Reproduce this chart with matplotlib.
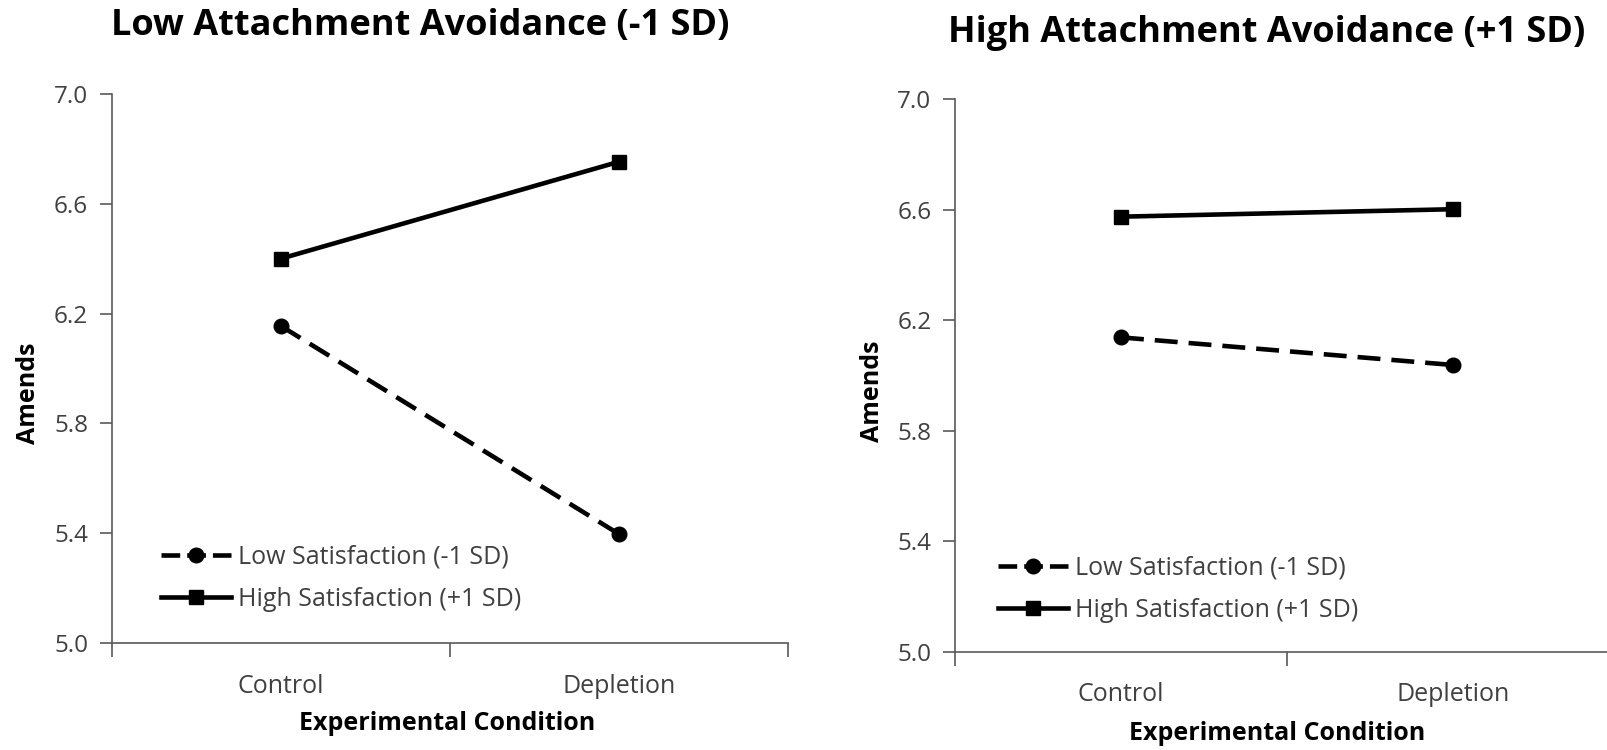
import numpy as np
import matplotlib
matplotlib.use("Agg")
import matplotlib.pyplot as plt
from matplotlib.lines import Line2D

plt.rcParams['font.family'] = ['Open Sans', 'DejaVu Sans']

# data
conditions = ["Control", "Depletion"]
series_labels = ["Low Satisfaction (-1 SD)", "High Satisfaction (+1 SD)"]
low_avoid_low_sat = [6.155, 5.397]
low_avoid_high_sat = [6.40, 6.753]
high_avoid_low_sat = [6.138, 6.038]
high_avoid_high_sat = [6.575, 6.602]
y_ticks = [5.0, 5.4, 5.8, 6.2, 6.6, 7.0]

titles = ["Low Attachment Avoidance (-1 SD)", "High Attachment Avoidance (+1 SD)"]

fig = plt.figure(figsize=(16.08, 7.5), dpi=100)
ax_l = fig.add_axes([0.0695, 0.1427, 0.4205, 0.732])
ax_r = fig.add_axes([0.5939, 0.1311, 0.4129, 0.7365])

spine_col = "#595959"
tick_col = "#404040"
x = np.arange(len(conditions)) + 0.5

# legend keys: dash - marker - dash, like the Excel legend
handles = [
    Line2D([], [], color="black", lw=3.3, ls=(0, (4.08, 1.53)), marker="o", ms=10.5),
    Line2D([], [], color="black", lw=3.3, ls="-", marker="s", ms=10.5),
]


def style(ax, low, high):
    ax.plot(x, low, color="black", lw=3.3, ls=(0, (5, 2.4)),
            marker="o", ms=10.5)
    ax.plot(x, high, color="black", lw=3.3, ls="-",
            marker="s", ms=10.5)
    ax.set_xlim(0, 2)
    ax.set_ylim(5.0, 7.0)
    ax.set_yticks(y_ticks)
    ax.set_yticklabels([f"{v:.1f}" for v in y_ticks])
    ax.set_xticks([0, 1, 2])
    ax.set_xticklabels([])
    ax.set_xticks(x, minor=True)
    ax.set_xticklabels(conditions, minor=True)
    ax.tick_params(axis="x", which="major", length=10, width=1.2, color=spine_col, direction="out")
    ax.tick_params(axis="x", which="minor", length=0, pad=22, labelsize=18, labelcolor=tick_col)
    ax.tick_params(axis="y", length=9, width=1.2, color=spine_col, pad=8,
                   labelsize=17.5, labelcolor=tick_col)
    for s in ["top", "right"]:
        ax.spines[s].set_visible(False)
    for s in ["left", "bottom"]:
        ax.spines[s].set_color(spine_col)
        ax.spines[s].set_linewidth(1.2)


style(ax_l, low_avoid_low_sat, low_avoid_high_sat)
style(ax_r, high_avoid_low_sat, high_avoid_high_sat)

leg_kw = dict(loc="center left", frameon=False, fontsize=18, handlelength=2.8,
              handletextpad=0.28, labelspacing=0.7, labelcolor=tick_col,
              borderpad=0, borderaxespad=0)
ax_l.legend(handles, series_labels, bbox_to_anchor=(0.0725, 0.1175), **leg_kw)
ax_r.legend(handles, series_labels, bbox_to_anchor=(0.065, 0.1126), **leg_kw)

fig.text(420 / 1608, 1 - 26 / 750, titles[0], ha="center", va="center",
         fontsize=26, fontweight="bold")
fig.text(1267 / 1608, 1 - 33 / 750, titles[1], ha="center", va="center",
         fontsize=26, fontweight="bold")

fig.text(29 / 1608, 1 - 393 / 750, "Amends", rotation=90, ha="center", va="center",
         fontsize=18, fontweight="bold")
fig.text(873 / 1608, 1 - 391 / 750, "Amends", rotation=90, ha="center", va="center",
         fontsize=18, fontweight="bold")
fig.text(447 / 1608, 1 - 724 / 750, "Experimental Condition", ha="center", va="center",
         fontsize=18, fontweight="bold")
fig.text(1277 / 1608, 1 - 734 / 750, "Experimental Condition", ha="center", va="center",
         fontsize=18, fontweight="bold")

fig.savefig("out.png", dpi=100)
